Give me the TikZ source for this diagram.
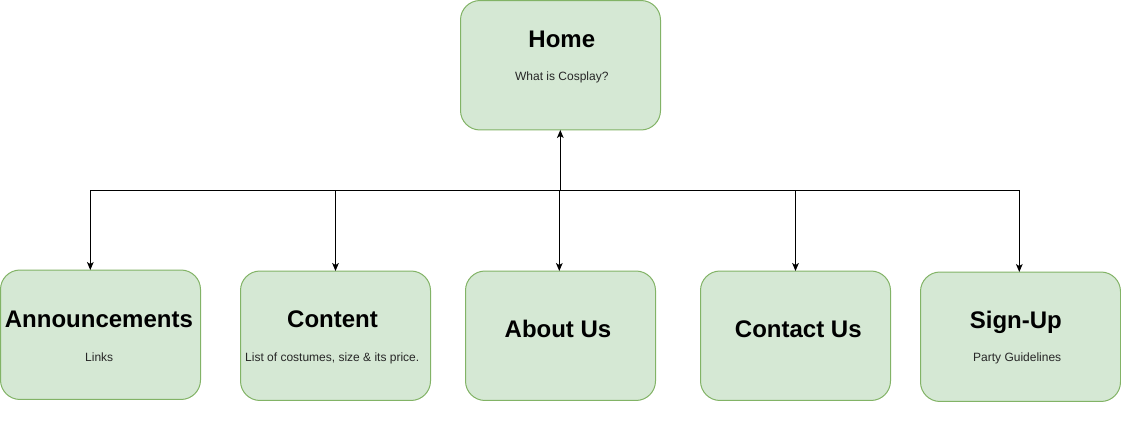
\documentclass[tikz,border=0pt]{standalone}
\usepackage{fontspec}
\setmainfont{Liberation Sans}
\usetikzlibrary{arrows.meta}
\definecolor{boxfill}{HTML}{D5E8D4}
\definecolor{boxline}{HTML}{82B366}
\definecolor{subtext}{HTML}{262626}
\begin{document}
\begin{tikzpicture}[x=0.75pt,y=-0.75pt,
  page/.style={draw=boxline, fill=boxfill, line width=0.75pt, rounded corners=14.6pt,
    inner sep=0pt, outer sep=0pt, minimum height=97.1pt},
  wide/.style={page, minimum width=150pt},
  narrow/.style={page, minimum width=142.5pt},
  title/.style={anchor=base, inner sep=0pt, font=\fontsize{18}{21.6}\selectfont\bfseries},
  sub/.style={anchor=base, inner sep=0pt, text=subtext, font=\fontsize{9}{10.8}\selectfont},
  arr/.style={draw=black, line width=0.75pt, -{Stealth[length=6pt,width=5pt,inset=1.5pt]}}]
\useasboundingbox (0,0) rectangle (1121,431);

% pages
\node[wide]   (home)    at (560.5,65.25)   {};
\node[wide]   (ann)     at (100.5,334.75)  {};
\node[narrow] (content) at (335.5,335.75)  {};
\node[narrow] (about)   at (560.5,335.75)  {};
\node[narrow] (contact) at (795.5,335.75)  {};
\node[wide]   (signup)  at (1020.5,336.75) {};

% page titles and notes
\node[title] (home-t)    at (561.8,47.7)   {Home};
\node[sub]   (home-s)    at (561.8,81)     {What is Cosplay?};
\node[title] (ann-t)     at (98.9,327.7)   {Announcements};
\node[sub]   (ann-s)     at (99.2,361.7)   {Links};
\node[title] (content-t) at (332.5,327.7)  {Content};
\node[sub]   (content-s) at (332.2,361.7)  {List of costumes, size \& its price.};
\node[title] (about-t)   at (558,337.3)    {About Us};
\node[title] (contact-t) at (798.3,337.3)  {Contact Us};
\node[title] (signup-t)  at (1015.8,328.3) {Sign-Up};
\node[sub]   (signup-s)  at (1017.2,361.7) {Party Guidelines};

% navigation links
\coordinate (hub) at (560.3,190.3);
\draw[arr] (hub) -- (hub |- home.south);
\draw[arr] (hub) -| ([xshift=-7.65pt]ann.north);
\draw[arr] (hub) -| (content.north);
\draw[arr] (hub) -| ([xshift=-0.9pt]about.north);
\draw[arr] (hub) -| (contact.north);
\draw[arr] (hub) -| ([xshift=-0.9pt]signup.north);
\end{tikzpicture}
\end{document}
